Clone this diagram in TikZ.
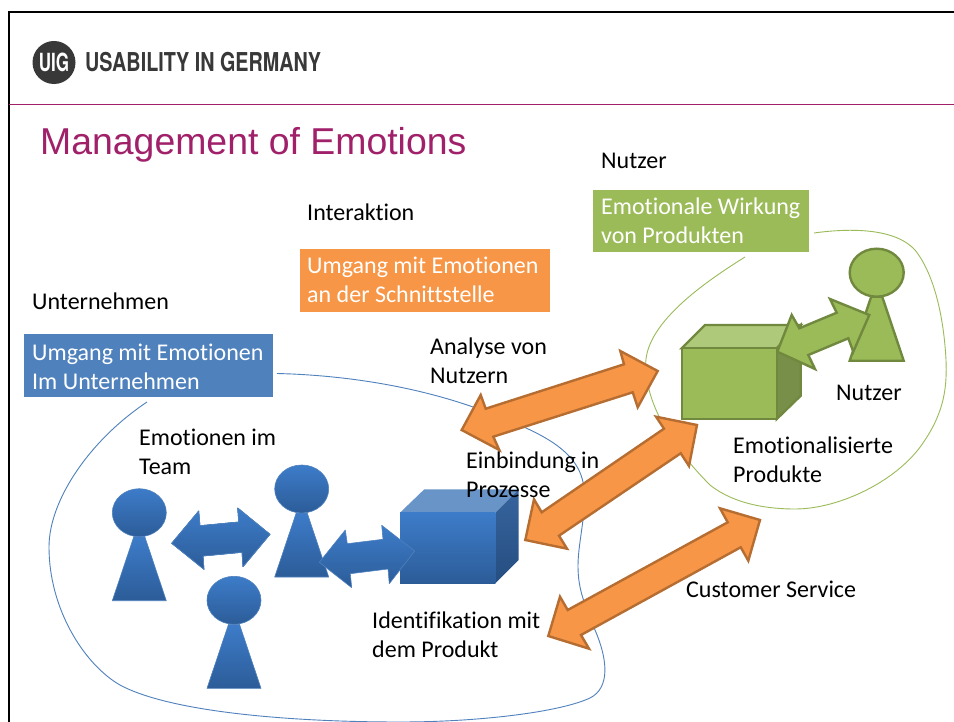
\documentclass[tikz,border=0pt]{standalone}
\usepackage{xcolor}
\usepackage{fontspec}
\setmainfont{Carlito}[Ligatures=NoCommon]
\newfontfamily\headfont{Liberation Sans}
\newfontfamily\logofont{TeX Gyre Heros}
\definecolor{uigpurple}{HTML}{A0206A}
\definecolor{uigblue}{HTML}{4F81BD}
\definecolor{uigorange}{HTML}{F79646}
\definecolor{uiggreen}{HTML}{9BBB59}
\definecolor{darkorange}{HTML}{B66D31}
\definecolor{darkgreen}{HTML}{71893F}
\definecolor{shadetop}{HTML}{3D7CC9}
\definecolor{shadebottom}{HTML}{2C5C98}
\tikzset{
  label text/.style={anchor=base west,inner sep=0pt,align=left,font=\fontsize{24}{29}\selectfont,black},
  box text/.style={label text,white},
  blue shape/.style={top color=shadetop,bottom color=shadebottom,draw=uigblue,line width=0.6pt,line join=round},
  green shape/.style={fill=uiggreen,draw=darkgreen,line width=2.4pt,line join=miter},
  orange arrow/.style={fill=uigorange,draw=darkorange,line width=2.4pt,line join=miter},
  blob/.style={line width=0.9pt}
}
\newcommand{\person}[3]{
  \path[#3] (#1-5.5,#2+24) -- (#1+5.5,#2+24) -- (#1+27,#2+88) -- (#1-27,#2+88) -- cycle;
  \path[#3] (#1,#2) ellipse [x radius=27,y radius=24];
}
\begin{document}
\begin{tikzpicture}[x=1pt,y=-1pt]
  \useasboundingbox (0,0) rectangle (954,722);
  \fill[white] (0,0) rectangle (954,722);
  \draw[line width=2pt] (8.5,722) -- (8.5,12.5) -- (954,12.5);
  \draw[uigpurple,line width=0.8pt] (9,104.5) -- (954,104.5);

  \fill[black!78] (54,62.5) circle (21.5);
  \node[white,inner sep=0pt,xscale=.68,transform shape,font=\logofont\bfseries\fontsize{25}{25}\selectfont] (logomark) at (54,62.5) {UIG};
  \node[black!78,anchor=base west,inner sep=0pt,xscale=.76,transform shape,font=\logofont\bfseries\fontsize{26}{26}\selectfont] (logotext) at (85,71.5) {USABILITY IN GERMANY};
  \node[uigpurple,anchor=base west,inner sep=0pt,font=\headfont\fontsize{37.4}{37.4}\selectfont] (title) at (40,154.5) {Management of Emotions};

  \fill[uigorange] (300,249) rectangle (550,312);
  \fill[uigblue] (24,334) rectangle (273,397);
  \fill[uiggreen] (593,190) rectangle (809,252.5);

  \draw[uigblue,blob] (147,402) .. controls (90,440) and (49,500) .. (49,547) .. controls (49,610) and (85,665) .. (120,685) .. controls (170,712) and (290,722) .. (400,722) .. controls (480,722) and (560,712) .. (590,698) .. controls (610,688) and (608,660) .. (595,630) .. controls (585,605) and (578,590) .. (578,566) .. controls (578,540) and (588,510) .. (583,482) .. controls (575,445) and (530,428) .. (473,407) .. controls (410,385) and (340,375) .. (277,373.5);
  \draw[uiggreen,blob] (745,257) .. controls (700,285) and (645,325) .. (645.7,365) .. controls (646,410) and (680,455) .. (710,485) .. controls (735,505) and (770,509) .. (795,509) .. controls (840,509) and (900,480) .. (925,440) .. controls (945,410) and (947,385) .. (946,360) .. controls (944,320) and (935,275) .. (915,250) .. controls (895,228) and (850,228) .. (814,233);

  \foreach \px/\py in {139.3/512.7,301.7/489,234/600.3}
    \person{\px}{\py}{blue shape}
  \path[blue shape] (270,534.3) -- (237.7,508) -- (238.7,522) -- (200,525.7) -- (198.7,511) -- (171.7,543.3) -- (204,569.3) -- (203,556) -- (242,552.3) -- (243,566.7) -- cycle;

  \path[fill=uigblue!85!white] (400,512.7) -- (424.3,489.3) -- (518.7,489.3) -- (495.3,512.7) -- cycle;
  \path[top color=shadebottom!95!white,bottom color=shadebottom!85!black] (495.3,512.7) -- (518.7,489.3) -- (518.7,560) -- (495.3,583.3) -- cycle;
  \path[top color=shadetop,bottom color=shadebottom] (400,512.7) rectangle (495.3,583.3);
  \path[blue shape] (414.7,551) -- (381.7,525.3) -- (383,539.3) -- (347.3,543.7) -- (345.3,530) -- (319.3,562.3) -- (351.7,587.7) -- (350.3,573.7) -- (388,569) -- (389.3,583.7) -- cycle;

  \draw[green shape,fill=uiggreen!80!white] (681.7,348.3) -- (705,325) -- (800.7,325) -- (776.7,348.3) -- cycle;
  \draw[green shape,fill=darkgreen!95!white] (776.7,348.3) -- (800.7,325) -- (800.7,395.7) -- (776.7,419) -- cycle;
  \draw[green shape] (681.7,348.3) rectangle (776.7,419);
  \person{876.7}{272.7}{green shape}
  \draw[green shape] (869.3,315) -- (830,299) -- (836.7,312.7) -- (799.3,328.3) -- (791.7,315) -- (777.3,351.7) -- (815,369) -- (808.3,355) -- (848.3,338.3) -- (853.3,351.7) -- cycle;

  \draw[orange arrow] (657.7,371) -- (620.3,351) -- (624,364.3) -- (485.7,408.7) -- (480.7,395) -- (461.7,430) -- (499.3,450) -- (493.3,436.7) -- (632.7,392.3) -- (637.7,407.3) -- cycle;
  \draw[orange arrow] (697,425) -- (656,416.7) -- (664,428.7) -- (541.7,512.3) -- (534,499.3) -- (525.3,540) -- (567,548.7) -- (559,535.7) -- (680.7,453.3) -- (689,466) -- cycle;
  \draw[orange arrow] (760,520) -- (720,508.3) -- (727.7,522.3) -- (567.7,610) -- (560,596.7) -- (548.3,636) -- (589,648.7) -- (581,635) -- (740.7,547.3) -- (748.3,560.7) -- cycle;

  \node[label text] (usertop) at (601,169) {Nutzer};
  \node[label text] (interaction) at (307,221) {Interaktion};
  \node[label text] (company) at (32,309) {Unternehmen};
  \node[box text] (greenbox) at (601,244) {Emotionale Wirkung\\von Produkten};
  \node[box text] (orangebox) at (307,303) {Umgang mit Emotionen\\an der Schnittstelle};
  \node[box text] (bluebox) at (32,389) {Umgang mit Emotionen\\Im Unternehmen};
  \node[label text] (analysis) at (430,384) {Analyse von\\Nutzern};
  \node[label text] (user) at (836,400) {Nutzer};
  \node[label text] (products) at (733,482) {Emotionalisierte\\Produkte};
  \node[label text] (team) at (139,474) {Emotionen im\\Team};
  \node[label text] (process) at (466,497) {Einbindung in\\Prozesse};
  \node[label text] (identity) at (372,657) {Identifikation mit\\dem Produkt};
  \node[label text] (service) at (686,597) {Customer Service};
\end{tikzpicture}
\end{document}
